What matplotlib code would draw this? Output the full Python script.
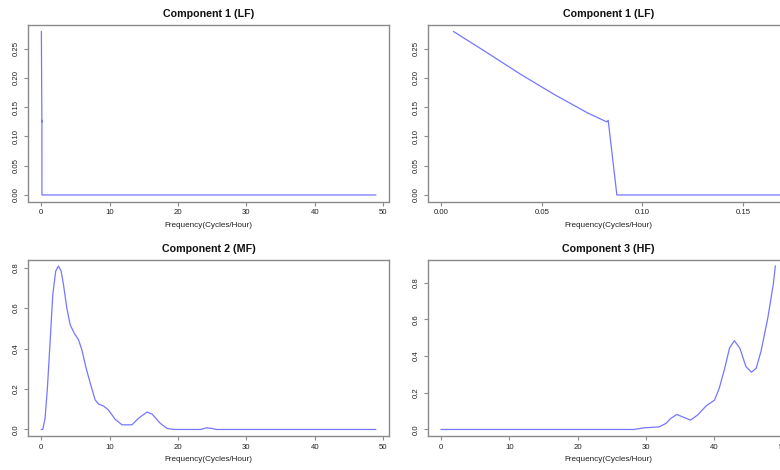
import matplotlib
matplotlib.use('Agg')
import matplotlib.pyplot as plt

# ---- data ----
lf_freq = [0.0062, 0.0228, 0.0395, 0.0562, 0.0728, 0.0823, 0.0830, 0.0873, 48.9]
lf_power = [0.279, 0.243, 0.206, 0.1716, 0.140, 0.1247, 0.1275, 0.0, 0.0]

mf_freq = [0, 0.2, 0.54, 0.88, 1.28, 1.67, 2.1, 2.49, 2.89, 3.23, 3.72, 4.21,
           4.79, 5.43, 5.92, 6.55, 7.14, 7.87, 8.4, 9.09, 9.82, 10.8, 11.79,
           13.25, 14.2, 15.45, 16.2, 17.4, 18.4, 19.4, 23.3, 24.15, 25.0, 25.6, 48.9]
mf_power = [0, 0.0, 0.055, 0.204, 0.435, 0.667, 0.783, 0.808, 0.783, 0.717, 0.601, 0.518,
            0.477, 0.444, 0.394, 0.303, 0.23, 0.146, 0.125, 0.116, 0.096, 0.05, 0.023,
            0.023, 0.055, 0.086, 0.076, 0.03, 0.005, 0, 0, 0.008, 0.005, 0, 0]

hf_freq = [0, 28.2, 29.7, 31.9, 32.9, 33.6, 34.5, 35.3, 36.5, 37.5, 38.8, 40.0,
           40.7, 41.5, 42.2, 42.9, 43.7, 44.6, 45.4, 46.1, 46.8, 47.8, 48.6, 48.9]
hf_power = [0, 0, 0.009, 0.014, 0.033, 0.060, 0.082, 0.069, 0.051, 0.078, 0.129, 0.160,
            0.225, 0.334, 0.444, 0.484, 0.444, 0.343, 0.312, 0.334, 0.425, 0.608, 0.791, 0.891]

titles = ["Component 1 (LF)", "Component 1 (LF)", "Component 2 (MF)", "Component 3 (HF)"]
x_label = "Frequency(Cycles/Hour)"
zoom_xlim = (0.0, 0.166)

plt.rcParams['font.family'] = ['Liberation Sans', 'DejaVu Sans']
plt.rcParams['path.simplify'] = False

W, H = 780, 470
fig = plt.figure(figsize=(W / 100, H / 100), dpi=100)

def make_axes(left, top, width, height):
    return fig.add_axes([left / W, 1 - (top + height) / H, width / W, height / H])

line_color = '#7676ff'
frame_color = '#8a8a8a'
text_color = '#222222'

panels = [
    (make_axes(28, 25, 361, 176.5), lf_freq, lf_power, titles[0]),
    (make_axes(427.7, 25, 361, 176.5), lf_freq, lf_power, titles[1]),
    (make_axes(28, 259.5, 361, 176.5), mf_freq, mf_power, titles[2]),
    (make_axes(427.7, 259.5, 361, 176.5), hf_freq, hf_power, titles[3]),
]

for i, (ax, fx, fy, title) in enumerate(panels):
    ax.plot(fx, fy, color=line_color, lw=0.9, solid_joinstyle='round',
            snap=False, antialiased=True)
    ax.margins(x=0.04, y=0.04)
    if i == 1:
        rng = zoom_xlim[1] - zoom_xlim[0]
        ax.set_xlim(zoom_xlim[0] - 0.04 * rng, zoom_xlim[1] + 0.04 * rng)
        ax.set_xticks([0.0, 0.05, 0.10, 0.15])
        ax.set_xticklabels(["0.00", "0.05", "0.10", "0.15"])
    else:
        ax.set_xticks([0, 10, 20, 30, 40, 50])
    if i < 2:
        ax.set_yticks([0.0, 0.05, 0.10, 0.15, 0.20, 0.25])
        ax.set_yticklabels(["0.00", "0.05", "0.10", "0.15", "0.20", "0.25"])
    else:
        ax.set_yticks([0.0, 0.2, 0.4, 0.6, 0.8])
        ax.set_yticklabels(["0.0", "0.2", "0.4", "0.6", "0.8"])
    for s in ax.spines.values():
        s.set_color(frame_color)
        s.set_linewidth(1.0)
    ax.tick_params(axis='both', direction='out', length=3, width=0.8,
                   color=frame_color, labelsize=5.6, labelcolor=text_color, pad=2.5)
    ax.tick_params(axis='y', labelrotation=90, pad=3)
    for lab in ax.get_yticklabels():
        lab.set_va('center')
    ax.set_xlabel(x_label, fontsize=5.9, color=text_color, labelpad=4)
    ax.set_title(title, fontsize=7.7, fontweight='bold', color='#111111', pad=5.5)

fig.savefig('out.png', dpi=100)
